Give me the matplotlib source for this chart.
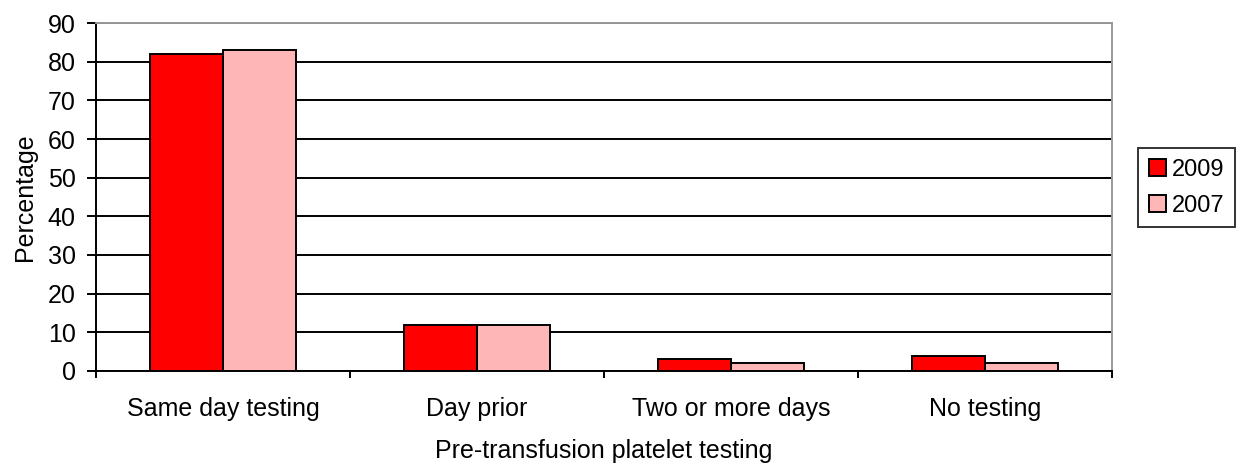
import numpy as np
import matplotlib
matplotlib.use('Agg')
from matplotlib import pyplot as plt

categories = ['Same day testing', 'Day prior', 'Two or more days', 'No testing']
vals_2009 = [82, 12, 3, 4]
vals_2007 = [83, 12, 2, 2]
yticks = list(range(0, 91, 10))

plt.rcParams['font.family'] = ['Liberation Sans', 'DejaVu Sans']
fs = 18

fig = plt.figure(figsize=(12.37, 4.65), dpi=100)
ax = fig.add_axes([0.0776, 0.2022, 0.8213, 0.7483])

x = np.arange(len(categories))
w = 0.287
ax.bar(x - w/2, vals_2009, w, color='#FF0000', edgecolor='black', linewidth=1.4, label='2009', zorder=3)
ax.bar(x + w/2, vals_2007, w, color='#FFB6B6', edgecolor='black', linewidth=1.4, label='2007', zorder=3)

ax.set_xlim(-0.5, len(categories) - 0.5)
ax.set_ylim(0, 90)
ax.set_yticks(yticks)
ax.tick_params(axis='y', labelsize=fs, direction='out', length=6.5, width=1.4, pad=8)
ax.set_xticks(np.arange(-0.5, len(categories)), minor=False)
ax.set_xticklabels([])
ax.set_xticks(x, minor=True)
ax.set_xticklabels(categories, minor=True, fontsize=fs)
ax.tick_params(axis='x', which='major', direction='out', length=5, width=1.4)
ax.tick_params(axis='x', which='minor', length=0, pad=18.5)

ax.yaxis.grid(True, color='black', linewidth=1.4, zorder=0)
ax.set_axisbelow(True)
for s in ['top', 'right']:
    ax.spines[s].set_color('#999999')
    ax.spines[s].set_linewidth(1.4)
for s in ['left', 'bottom']:
    ax.spines[s].set_color('black')
    ax.spines[s].set_linewidth(1.4)

ax.set_ylabel('Percentage', fontsize=fs, labelpad=8)
ax.set_xlabel('Pre-transfusion platelet testing', fontsize=fs, labelpad=13)

leg = fig.legend(loc='upper left', bbox_to_anchor=(1138/1237, 1 - 148/465), fontsize=17,
                 frameon=True, fancybox=False, edgecolor='black', handlelength=0.72,
                 handleheight=0.72, handletextpad=0.25, borderpad=0.45, labelspacing=0.6, borderaxespad=0)
leg.get_frame().set_linewidth(1.4)

fig.savefig('out.png', dpi=100)
